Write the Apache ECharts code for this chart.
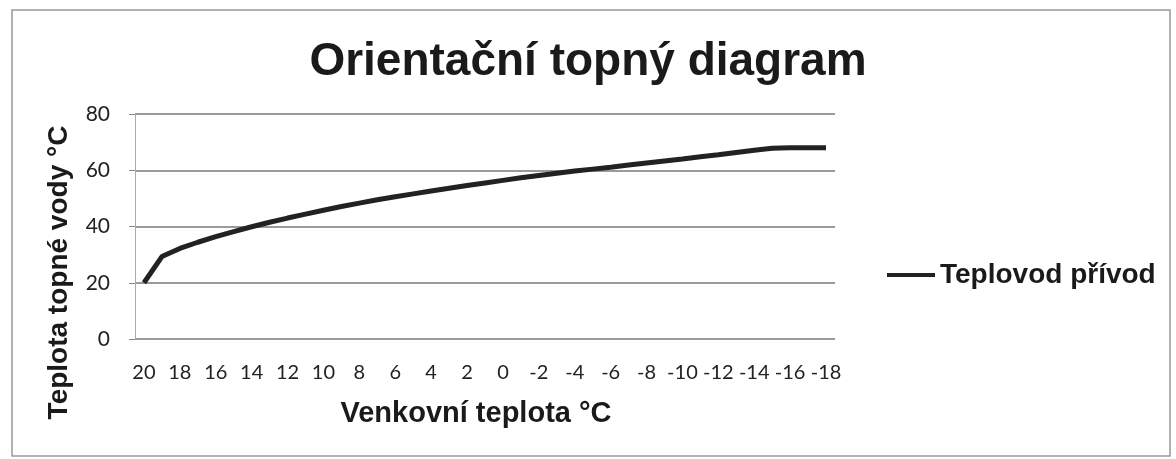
<!DOCTYPE html>
<html>
<head>
<meta charset="utf-8">
<script src="https://cdn.jsdelivr.net/npm/echarts@6/dist/echarts.min.js"></script>
<style>
    html, body { margin: 0; padding: 0; background: #fff; }
    #chart { width: 1176px; height: 459px; }
</style>
</head>
<body>
<div id="chart"></div>
<script>
// venkovni teplota, 20 .. -18 po 1 stupni
var outsideTemps = ['20', '19', '18', '17', '16', '15', '14', '13', '12', '11', '10', '9', '8', '7', '6', '5', '4', '3', '2', '1',
    '0', '-1', '-2', '-3', '-4', '-5', '-6', '-7', '-8', '-9', '-10', '-11', '-12', '-13', '-14', '-15', '-16', '-17', '-18'];
// teplota topne vody (privod)
var supplyTemps = [20, 29.3, 32.2, 34.4, 36.4, 38.2, 39.9, 41.5, 43.0, 44.4, 45.8, 47.1, 48.3, 49.5, 50.6, 51.6, 52.6, 53.6, 54.6, 55.5,
    56.4, 57.3, 58.1, 58.9, 59.7, 60.4, 61.1, 61.9, 62.6, 63.3, 64.0, 64.8, 65.5, 66.3, 67.1, 67.8, 68, 68, 68];
var seriesName = 'Teplovod přívod';

var chart = echarts.init(document.getElementById('chart'));

var option = {
    backgroundColor: '#fff',
    animation: false,
    title: {
        text: 'Orientační topný diagram',
        left: 'center',
        top: 34,
        padding: [5, 5, 5, 24],
        textStyle: {fontFamily: 'Liberation Sans', fontWeight: 'bold', fontSize: 46, color: '#1a1a1a'}
    },
    graphic: [{
        type: 'rect',
        shape: {x: 12, y: 10, width: 1158, height: 446},
        style: {fill: 'none', stroke: '#999', lineWidth: 1.5},
        silent: true
    }],
    legend: {
        left: 882,
        top: 256,
        itemWidth: 48,
        itemHeight: 4,
        data: [{name: seriesName, icon: 'rect'}],
        textStyle: {fontFamily: 'Liberation Sans', fontWeight: 'bold', fontSize: 28, color: '#1a1a1a'}
    },
    grid: {left: 135, right: 341, top: 114, bottom: 120},
    xAxis: {
        type: 'category',
        data: outsideTemps,
        boundaryGap: true,
        name: 'Venkovní teplota °C',
        nameLocation: 'middle',
        nameGap: 60,
        nameTextStyle: {fontFamily: 'Liberation Sans', fontWeight: 'bold', fontSize: 29, color: '#1a1a1a', padding: [0, 18, 0, 0]},
        axisLine: {show: false},
        axisTick: {show: false},
        axisLabel: {interval: 1, margin: 24, fontFamily: 'Lato', fontSize: 20, color: '#222'}
    },
    yAxis: {
        type: 'value',
        min: 0,
        max: 80,
        interval: 20,
        name: 'Teplota topné vody °C',
        nameLocation: 'middle',
        nameGap: 62,
        nameTextStyle: {fontFamily: 'Liberation Sans', fontWeight: 'bold', fontSize: 28, color: '#1a1a1a', padding: [0, 92, 0, 0]},
        axisLine: {show: true, lineStyle: {color: '#aaa', width: 1}},
        axisTick: {show: true, length: 6, lineStyle: {color: '#888'}},
        axisLabel: {margin: 25, fontFamily: 'Lato', fontSize: 21, color: '#222'},
        splitLine: {lineStyle: {color: '#7a7a7a', width: 1.5}}
    },
    series: [{
        name: seriesName,
        type: 'line',
        data: supplyTemps,
        symbol: 'none',
        smooth: false,
        lineStyle: {color: '#222', width: 5},
        itemStyle: {color: '#222'}
    }]
};

chart.setOption(option);
</script>
</body>
</html>
